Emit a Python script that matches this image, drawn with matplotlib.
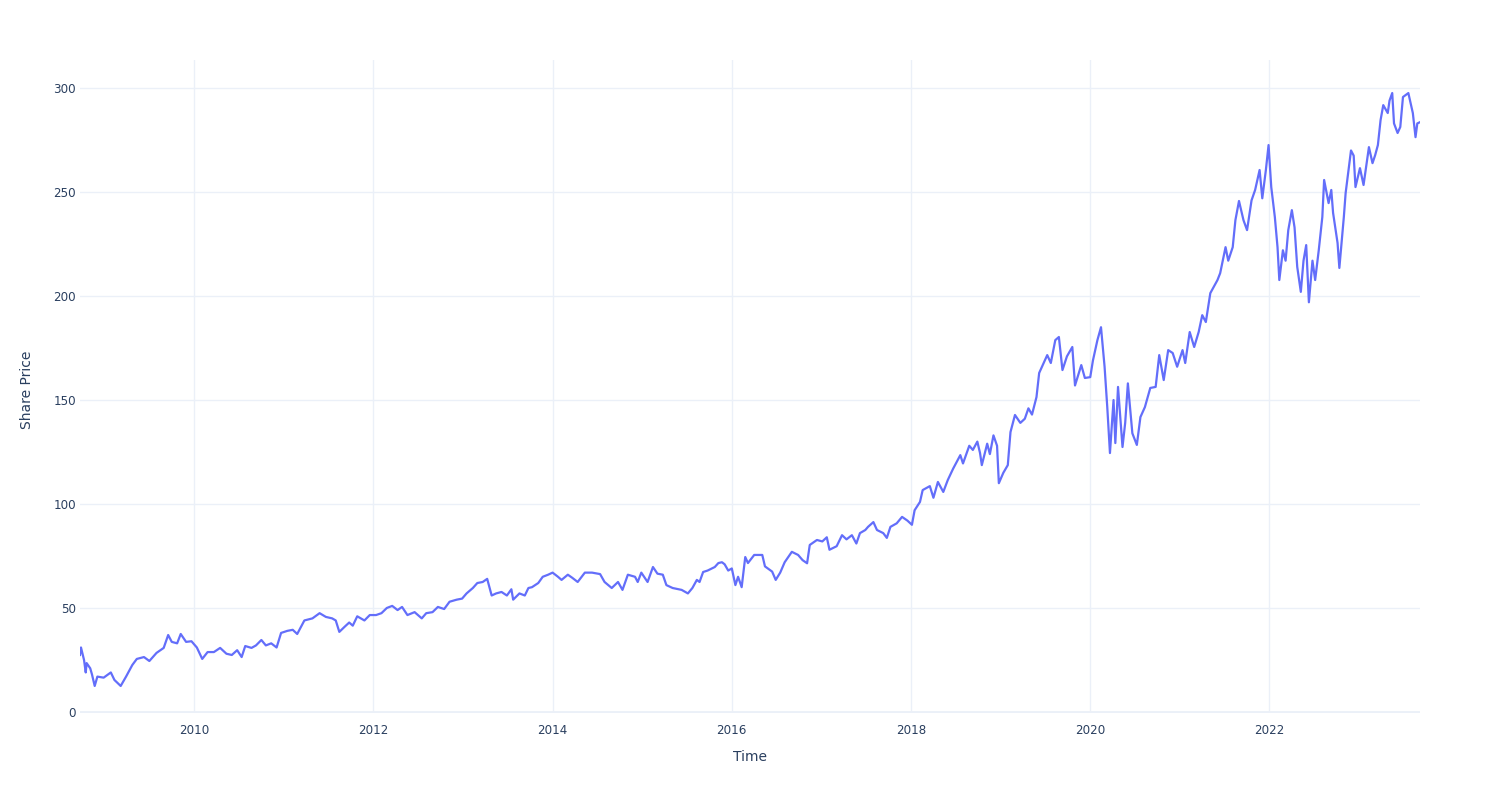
import numpy as np
import pandas as pd
import matplotlib
matplotlib.use("Agg")
import matplotlib.pyplot as plt
import matplotlib.dates as mdates

# time in decimal years
years = [
    2008.726, 2008.737, 2008.771, 2008.79, 2008.80, 2008.84, 2008.86, 2008.89, 2008.92, 2008.99,
    2009.07, 2009.11, 2009.18, 2009.24, 2009.31, 2009.36, 2009.44, 2009.50, 2009.58, 2009.66,
    2009.71, 2009.75, 2009.81, 2009.85, 2009.91, 2009.97, 2010.03, 2010.09, 2010.15, 2010.22,
    2010.29, 2010.36, 2010.42, 2010.48, 2010.53, 2010.57, 2010.64, 2010.69, 2010.75, 2010.80,
    2010.86, 2010.92, 2010.97, 2011.04, 2011.10, 2011.15, 2011.23, 2011.32, 2011.40, 2011.47,
    2011.54, 2011.58, 2011.62, 2011.68, 2011.73, 2011.77, 2011.82, 2011.90, 2011.96, 2012.03,
    2012.09, 2012.15, 2012.21, 2012.27, 2012.32, 2012.38, 2012.46, 2012.54, 2012.59, 2012.66,
    2012.72, 2012.79, 2012.85, 2012.93, 2012.99, 2013.04, 2013.11, 2013.16, 2013.22, 2013.27,
    2013.32, 2013.37, 2013.43, 2013.49, 2013.54, 2013.56, 2013.63, 2013.69, 2013.73, 2013.77,
    2013.84, 2013.89, 2013.95, 2014.00, 2014.06, 2014.10, 2014.17, 2014.22, 2014.28, 2014.36,
    2014.44, 2014.53, 2014.58, 2014.66, 2014.73, 2014.78, 2014.84, 2014.92, 2014.95, 2014.99,
    2015.06, 2015.12, 2015.17, 2015.23, 2015.27, 2015.34, 2015.44, 2015.51, 2015.56, 2015.61,
    2015.64, 2015.68, 2015.73, 2015.81, 2015.85, 2015.89, 2015.92, 2015.96, 2016.00, 2016.04,
    2016.07, 2016.11, 2016.15, 2016.18, 2016.25, 2016.34, 2016.37, 2016.45, 2016.49, 2016.54,
    2016.59, 2016.67, 2016.74, 2016.79, 2016.84, 2016.87, 2016.95, 2017.01, 2017.06, 2017.09,
    2017.17, 2017.23, 2017.28, 2017.34, 2017.39, 2017.43, 2017.49, 2017.52, 2017.58, 2017.62,
    2017.69, 2017.73, 2017.77, 2017.84, 2017.90, 2017.96, 2018.01, 2018.04, 2018.10, 2018.13,
    2018.21, 2018.25, 2018.30, 2018.36, 2018.41, 2018.47, 2018.55, 2018.58, 2018.65, 2018.69,
    2018.74, 2018.77, 2018.79, 2018.85, 2018.88, 2018.92, 2018.96, 2018.98, 2019.03, 2019.08,
    2019.11, 2019.16, 2019.22, 2019.27, 2019.31, 2019.35, 2019.40, 2019.43, 2019.47, 2019.52,
    2019.56, 2019.61, 2019.65, 2019.69, 2019.74, 2019.80, 2019.83, 2019.90, 2019.94, 2020.00,
    2020.03, 2020.08, 2020.12, 2020.16, 2020.19, 2020.22, 2020.26, 2020.28, 2020.31, 2020.36,
    2020.39, 2020.42, 2020.47, 2020.52, 2020.56, 2020.61, 2020.67, 2020.73, 2020.77, 2020.82,
    2020.87, 2020.92, 2020.97, 2021.03, 2021.06, 2021.11, 2021.16, 2021.21, 2021.25, 2021.29,
    2021.34, 2021.42, 2021.45, 2021.51, 2021.54, 2021.59, 2021.62, 2021.66, 2021.71, 2021.75,
    2021.80, 2021.84, 2021.89, 2021.92, 2021.96, 2021.99, 2022.02, 2022.06, 2022.09, 2022.11,
    2022.15, 2022.18, 2022.21, 2022.25, 2022.28, 2022.31, 2022.35, 2022.38, 2022.41, 2022.44,
    2022.48, 2022.51, 2022.55, 2022.59, 2022.61, 2022.66, 2022.69, 2022.71, 2022.76, 2022.78,
    2022.83, 2022.85, 2022.91, 2022.94, 2022.96, 2023.01, 2023.05, 2023.11, 2023.15, 2023.18,
    2023.21, 2023.24, 2023.27, 2023.32, 2023.34, 2023.37, 2023.39, 2023.43, 2023.46, 2023.49,
    2023.55, 2023.60, 2023.63, 2023.65, 2023.68,
]

price = [
    27.4, 31.0, 25.0, 19.0, 23.5, 21.0, 18.0, 12.5, 17.0, 16.5,
    19.0, 15.4, 12.5, 17.0, 22.6, 25.5, 26.4, 24.5, 28.4, 30.8,
    37.0, 33.7, 33.0, 37.5, 33.7, 34.0, 31.0, 25.5, 28.8, 28.8,
    30.8, 28.0, 27.4, 29.7, 26.4, 31.7, 30.8, 32.0, 34.6, 32.0,
    33.0, 31.0, 38.0, 39.0, 39.5, 37.5, 44.0, 45.0, 47.5, 45.7,
    45.0, 44.0, 38.5, 41.0, 43.0, 41.5, 46.0, 44.0, 46.6, 46.6,
    47.5, 50.0, 51.0, 49.0, 50.5, 46.6, 48.0, 45.0, 47.5, 48.0,
    50.5, 49.5, 53.0, 54.0, 54.5, 57.0, 59.6, 62.0, 62.5, 64.0,
    56.0, 57.0, 57.7, 56.0, 59.0, 54.0, 57.0, 56.0, 59.6, 60.0,
    62.0, 65.0, 66.0, 67.0, 65.0, 63.5, 66.0, 64.5, 62.5, 67.0,
    67.0, 66.3, 62.5, 59.6, 62.5, 58.7, 66.0, 65.0, 62.5, 67.0,
    62.5, 69.7, 66.5, 66.0, 61.0, 59.6, 58.7, 57.0, 59.6, 63.5,
    62.5, 67.3, 68.0, 69.7, 71.6, 72.0, 71.0, 68.0, 69.0, 61.0,
    65.0, 60.0, 74.5, 71.6, 75.5, 75.5, 70.0, 67.5, 63.5, 67.0,
    72.0, 77.0, 75.5, 73.0, 71.5, 80.3, 82.7, 82.0, 84.0, 78.0,
    79.7, 85.0, 83.0, 85.0, 81.0, 86.0, 87.5, 89.0, 91.3, 87.5,
    86.0, 83.7, 89.0, 90.7, 93.8, 92.0, 90.0, 97.0, 101.0, 106.7,
    108.6, 103.0, 110.6, 105.8, 111.5, 117.0, 123.5, 119.5, 128.0, 126.0,
    130.0, 124.5, 118.7, 129.0, 124.0, 133.0, 128.0, 110.0, 115.0, 118.7,
    134.6, 142.8, 139.0, 141.0, 146.0, 143.0, 151.4, 163.0, 166.8, 171.6,
    167.8, 178.8, 180.3, 164.4, 171.0, 175.5, 157.0, 166.8, 160.6, 161.0,
    169.0, 178.8, 185.0, 166.0, 146.6, 124.5, 150.0, 129.3, 156.3, 127.4,
    139.0, 158.0, 134.0, 128.4, 141.8, 146.6, 155.8, 156.3, 171.6, 159.6,
    174.0, 172.6, 166.0, 174.0, 167.8, 182.7, 175.5, 182.7, 190.8, 187.5,
    201.4, 207.7, 211.0, 223.5, 217.0, 223.5, 236.5, 245.7, 236.5, 231.7,
    246.0, 251.0, 260.6, 247.0, 260.6, 272.6, 252.4, 238.0, 223.5, 207.7,
    222.0, 217.0, 231.7, 241.3, 233.0, 214.0, 202.0, 217.0, 224.5, 197.0,
    217.0, 207.7, 222.0, 238.0, 255.8, 244.7, 251.0, 240.0, 225.5, 213.5,
    238.0, 249.5, 270.0, 267.5, 252.4, 261.5, 253.4, 271.6, 263.9, 267.8,
    272.6, 284.6, 291.8, 288.0, 294.0, 297.6, 283.0, 278.4, 281.3, 295.7,
    297.6, 288.0, 276.4, 283.0, 283.6,
]

GRID = "#EBF0F8"
TEXT = "#2a3f5f"


def to_dates(yrs):
    yrs = np.asarray(yrs)
    return pd.Timestamp("2010-01-01") + pd.to_timedelta((yrs - 2010) * 365.25, unit="D")


def main():
    dates = to_dates(years)

    fig = plt.figure(figsize=(15, 8), dpi=100)
    ax = fig.add_axes([80 / 1500, 87 / 800, 1340 / 1500, 653 / 800])

    ax.plot(dates, price, color="#636EFA", lw=1.6, zorder=3)

    ax.set_xlim(dates[0], dates[-1])
    ax.set_ylim(-0.5, 313.5)
    ax.set_yticks([0, 50, 100, 150, 200, 250, 300])
    ax.xaxis.set_major_locator(mdates.YearLocator(2))
    ax.xaxis.set_major_formatter(mdates.DateFormatter("%Y"))

    ax.grid(True, color=GRID, lw=1)
    ax.set_axisbelow(True)
    ax.axhline(0, color=GRID, lw=2, zorder=1)
    for s in ax.spines.values():
        s.set_visible(False)

    ax.tick_params(axis="both", length=0, labelsize=8.6, labelcolor=TEXT)
    ax.tick_params(axis="y", pad=3)
    ax.tick_params(axis="x", pad=8)

    ax.set_xlabel("Time", fontsize=10, color=TEXT)
    ax.set_ylabel("Share Price", fontsize=10, color=TEXT)
    # label positions matched to the reference pixels
    ax.xaxis.set_label_coords(0.5, -0.0567)
    ax.yaxis.set_label_coords(-0.0343, 0.495)

    fig.savefig("out.png", dpi=100, facecolor="white")


if __name__ == "__main__":
    main()
